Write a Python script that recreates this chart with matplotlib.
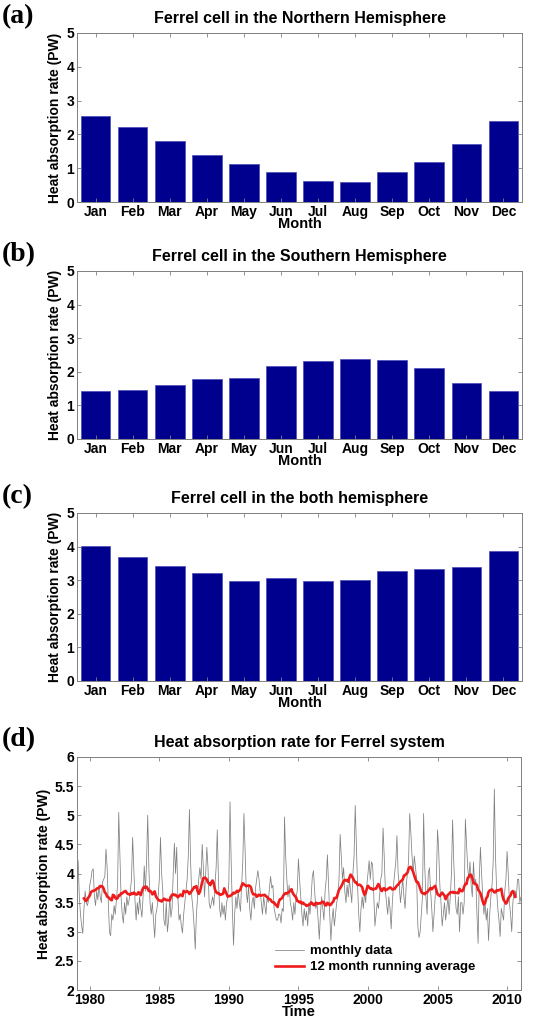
import numpy as np
import pandas as pd
import matplotlib
matplotlib.use("Agg")
import matplotlib.pyplot as plt

months = ["Jan", "Feb", "Mar", "Apr", "May", "Jun", "Jul", "Aug", "Sep", "Oct", "Nov", "Dec"]

# monthly climatology of heat absorption (PW)
nh_pw = [2.54, 2.21, 1.79, 1.39, 1.12, 0.89, 0.63, 0.60, 0.88, 1.19, 1.73, 2.40]
sh_pw = [1.44, 1.46, 1.61, 1.79, 1.83, 2.16, 2.33, 2.39, 2.36, 2.12, 1.66, 1.44]
both_pw = [4.01, 3.69, 3.42, 3.20, 2.97, 3.08, 2.98, 3.01, 3.26, 3.32, 3.40, 3.88]

# Ferrel system monthly series, Jan 1979 - Dec 2010 (one row per year)
first_year = 1979
monthly_pw = [
    4.30, 4.20, 3.60, 3.30, 3.10, 2.97, 3.40, 3.70, 3.50, 3.45, 3.55, 3.80,  # 1979
    3.90, 4.05, 4.08, 3.60, 3.45, 3.70, 3.55, 3.80, 3.60, 3.50, 3.85, 3.90,  # 1980
    3.95, 4.42, 4.10, 3.50, 3.00, 2.93, 3.30, 3.20, 3.45, 3.30, 3.55, 3.80,  # 1981
    5.05, 4.30, 3.60, 3.30, 3.15, 3.50, 3.30, 3.60, 3.45, 3.55, 3.70, 3.90,  # 1982
    4.62, 4.10, 3.55, 3.20, 3.50, 3.30, 3.60, 3.40, 3.25, 3.60, 4.13, 3.70,  # 1983
    4.20, 5.00, 4.10, 3.50, 3.30, 3.50, 3.20, 2.90, 3.30, 3.40, 3.60, 3.90,  # 1984
    4.62, 4.00, 3.70, 3.20, 3.10, 3.50, 3.00, 3.20, 3.60, 3.25, 3.40, 4.00,  # 1985
    4.52, 4.00, 4.45, 3.60, 3.20, 3.30, 3.10, 2.98, 3.30, 3.50, 3.70, 3.90,  # 1986
    4.30, 5.10, 4.20, 3.60, 3.40, 3.10, 2.70, 3.30, 3.60, 3.90, 4.10, 3.90,  # 1987
    4.50, 4.10, 3.60, 4.00, 4.45, 4.10, 3.50, 3.40, 3.50, 3.60, 3.45, 3.80,  # 1988
    4.10, 4.75, 3.90, 3.40, 3.25, 3.50, 3.30, 3.45, 3.20, 3.50, 3.60, 3.85,  # 1989
    5.23, 4.20, 3.40, 2.77, 3.30, 3.60, 3.40, 3.70, 3.50, 3.35, 3.80, 4.20,  # 1990
    5.03, 4.40, 3.70, 3.50, 3.80, 3.40, 3.20, 3.50, 3.60, 3.40, 3.75, 3.90,  # 1991
    4.05, 3.90, 3.70, 3.50, 3.30, 3.60, 3.45, 3.30, 3.60, 3.50, 3.75, 3.95,  # 1992
    3.75, 3.80, 3.40, 3.30, 3.20, 3.20, 3.30, 3.30, 3.15, 3.40, 3.35, 4.97,  # 1993
    4.30, 3.90, 3.60, 3.80, 3.50, 3.40, 3.20, 3.50, 3.30, 3.60, 3.70, 4.25,  # 1994
    3.90, 3.60, 3.30, 3.10, 3.40, 3.20, 3.35, 3.10, 3.50, 3.30, 3.60, 3.95,  # 1995
    4.05, 3.70, 3.40, 3.50, 3.20, 2.87, 3.30, 3.60, 3.40, 3.20, 3.70, 3.90,  # 1996
    4.32, 3.80, 3.30, 2.85, 3.20, 3.40, 3.10, 3.30, 3.50, 3.60, 3.90, 4.67,  # 1997
    4.30, 3.90, 4.10, 3.70, 3.50, 3.80, 3.60, 3.90, 3.70, 3.50, 4.00, 4.30,  # 1998
    5.17, 4.50, 3.80, 3.30, 3.00, 3.40, 3.60, 3.40, 3.70, 3.50, 3.80, 4.00,  # 1999
    4.22, 3.90, 4.20, 4.15, 3.60, 3.10, 3.30, 3.50, 3.40, 3.60, 3.90, 4.00,  # 2000
    4.78, 4.30, 3.70, 3.50, 3.30, 3.60, 3.40, 3.05, 3.50, 3.80, 4.00, 4.20,  # 2001
    4.65, 4.00, 3.80, 3.50, 3.70, 3.90, 3.60, 3.40, 3.80, 4.00, 4.20, 5.03,  # 2002
    4.70, 4.30, 4.00, 4.30, 4.10, 3.90, 3.10, 2.90, 3.00, 3.30, 3.60, 5.03,  # 2003
    4.10, 3.60, 3.30, 4.00, 4.10, 3.70, 3.40, 3.00, 3.30, 3.60, 3.90, 4.75,  # 2004
    4.40, 3.80, 3.50, 3.10, 3.30, 3.50, 3.20, 3.40, 3.60, 3.30, 3.60, 4.00,  # 2005
    4.92, 4.20, 3.70, 3.40, 3.30, 3.60, 3.00, 3.50, 3.50, 3.30, 3.50, 4.93,  # 2006
    4.50, 4.10, 3.90, 4.20, 3.80, 3.60, 4.20, 3.80, 3.90, 3.30, 2.80, 3.90,  # 2007
    4.45, 4.00, 3.60, 3.30, 3.50, 3.20, 3.40, 2.85, 3.30, 3.60, 3.80, 4.20,  # 2008
    5.45, 4.30, 3.70, 3.40, 3.20, 2.92, 3.40, 3.30, 3.20, 3.70, 3.90, 4.38,  # 2009
    4.00, 3.50, 3.30, 3.00, 3.50, 3.70, 3.70, 3.60, 3.90, 3.90, 3.50, 3.60,  # 2010
]

plt.rcParams["font.family"] = ["Liberation Sans", "DejaVu Sans"]
plt.rcParams["font.weight"] = "bold"
plt.rcParams["axes.labelweight"] = "bold"

BAR_COLOR = "#00008f"
FRAME = "0.5"
W, H = 559, 1024


def box(left, top, right, bottom):
    # pixel box -> figure fraction
    return [left / W, 1 - bottom / H, (right - left) / W, (bottom - top) / H]


def style(ax):
    for s in ax.spines.values():
        s.set_color(FRAME)
        s.set_linewidth(0.7)
    ax.tick_params(direction="in", top=True, right=True, length=3, width=0.6,
                   color=FRAME, labelsize=10, pad=2)


fig = plt.figure(figsize=(W / 100, H / 100), dpi=100)

panels = [
    ((77, 33, 522, 202), nh_pw, "Ferrel cell in the Northern Hemisphere", "(a)", 17),
    ((77, 271, 522, 439), sh_pw, "Ferrel cell in the Southern Hemisphere", "(b)", 255),
    ((77, 513, 522, 681), both_pw, "Ferrel cell in the both hemisphere", "(c)", 497),
]

pos = np.arange(1, 13)
for rect, vals, title, letter, ly in panels:
    ax = fig.add_axes(box(*rect))
    ax.bar(pos, vals, width=0.8, color=BAR_COLOR, edgecolor="#4a4ab8", linewidth=0.5)
    ax.set_xlim(0.5, 12.5)
    ax.set_ylim(0, 5)
    ax.set_xticks(pos)
    ax.set_xticklabels(months)
    ax.set_yticks(range(0, 6))
    style(ax)
    ax.set_xlabel("Month", fontsize=10.5, labelpad=-1)
    ax.set_ylabel("Heat absorption rate (PW)", fontsize=10, labelpad=3)
    ax.set_title(title, fontsize=11.5, fontweight="bold", pad=7)
    fig.text(2 / W, 1 - ly / H, letter, family="Liberation Serif", fontweight="bold",
             fontsize=20, va="center", ha="left")

# panel (d): time series
ts = pd.Series(monthly_pw)
t = first_year + (np.arange(len(ts)) + 1) / 12
running = ts.rolling(12, center=True).mean()

ax = fig.add_axes(box(77, 757, 521, 990))
ax.plot(t, ts.values, color="0.5", lw=0.55, label="monthly data")
ax.plot(t, running.values, color="#ee1c1c", lw=1.9, label="12 month running average")
ax.set_xlim(first_year + 1 / 12, t[-1])
ax.set_ylim(2, 6)
ax.set_xticks(range(1980, 2011, 5))
ax.set_yticks(np.arange(2, 6.01, 0.5))
ax.set_yticklabels(["2", "2.5", "3", "3.5", "4", "4.5", "5", "5.5", "6"])
style(ax)
ax.set_xlabel("Time", fontsize=10.5, labelpad=-1)
ax.set_ylabel("Heat absorption rate (PW)", fontsize=10, labelpad=3)
ax.set_title("Heat absorption rate for Ferrel system", fontsize=11.5, fontweight="bold", pad=7)
ax.legend(loc="lower left", bbox_to_anchor=(0.42, 0.02), frameon=False, fontsize=9.5,
          handlelength=2.2, handletextpad=0.4, labelspacing=0.3)
fig.text(2 / W, 1 - 740 / H, "(d)", family="Liberation Serif", fontweight="bold",
         fontsize=20, va="center", ha="left")

fig.savefig("out.png", dpi=100)
